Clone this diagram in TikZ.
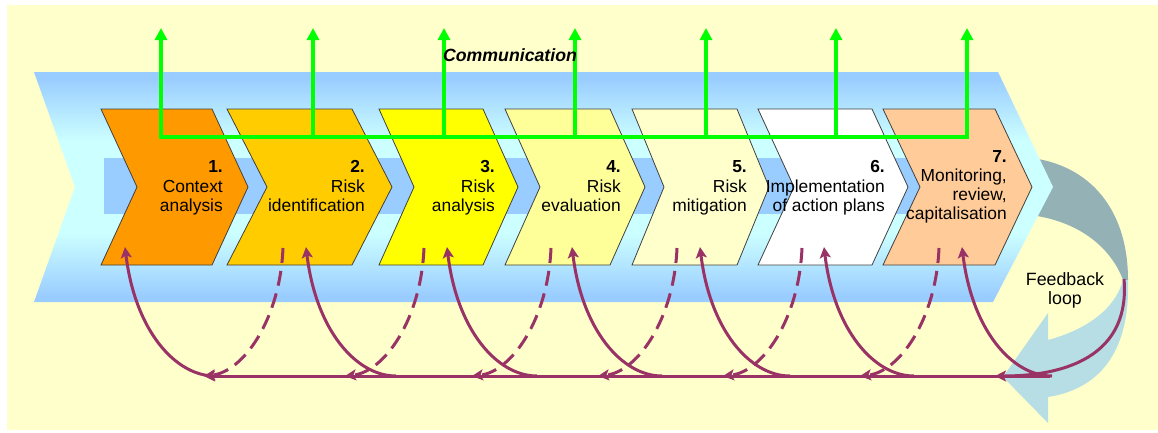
\documentclass[tikz,border=0pt]{standalone}
\usepackage{fontspec}
\setmainfont{Liberation Sans}
\usetikzlibrary{arrows.meta}
\definecolor{bgyellow}{HTML}{FFFFCC}
\definecolor{bandblue}{HTML}{99CCFF}
\definecolor{bandcyan}{HTML}{CCFFFF}
\definecolor{cgreen}{HTML}{00FF00}
\definecolor{plum}{HTML}{993366}
\definecolor{fbdark}{HTML}{94B2B5}
\definecolor{fblight}{HTML}{B6DEE4}
\definecolor{cone}{HTML}{FF9900}
\definecolor{ctwo}{HTML}{FFCC00}
\definecolor{cthree}{HTML}{FFFF00}
\definecolor{cfour}{HTML}{FFFF99}
\definecolor{cfive}{HTML}{FFFFCC}
\definecolor{csix}{HTML}{FFFFFF}
\definecolor{cseven}{HTML}{FFCC99}
\pgfdeclareverticalshading{bandshade}{100bp}{color(0bp)=(bandblue); color(26bp)=(bandblue);
  color(40bp)=(bandcyan); color(60bp)=(bandcyan); color(74bp)=(bandblue); color(100bp)=(bandblue)}
\begin{document}
\begin{tikzpicture}[x=1pt,y=-1pt,
  chevbox/.style={draw=black!75, line width=0.8pt, line join=miter},
  lbl/.style={font=\fontsize{17.4}{19.5}\selectfont, align=right, inner sep=0pt, anchor=north east},
  gline/.style={draw=cgreen, line width=4pt},
  garrow/.style={gline, -{Triangle[width=12pt,length=12pt]}},
  pline/.style={draw=plum, line width=3pt},
  parrow/.style={pline, -{Stealth[width=11pt,length=11pt,inset=2.5pt]}},
  pdash/.style={parrow, dash pattern=on 15pt off 8pt},
]
\useasboundingbox (0,0) rectangle (1158,432);
\fill[white] (0,0) rectangle (1158,432);
\fill[bgyellow] (7,5) rectangle (1158,430);

% feedback loop big arrow
\fill[fbdark] (1020,157) .. controls (1085,160) and (1128,205) .. (1128,280)
  -- (1123,280) .. controls (1112,250) and (1080,218) .. (1020,214) -- cycle;
\fill[fblight] (1123,280) -- (1128,280) .. controls (1130,345) and (1105,388) .. (1048,397)
  -- (1048,423) -- (1003,377) -- (1048,313) -- (1048,340)
  .. controls (1085,330) and (1115,310) .. (1123,280) -- cycle;

% big band
\shade[shading=bandshade]
  (34,72) -- (998,72) -- (1053,187) -- (993,302) -- (34,302) -- (75,187) -- cycle;
\fill[bandblue] (104,158) rectangle (975,214);

% chevrons
\foreach \L/\R/\d/\c in {101/212/36/cone, 227/352/40/ctwo, 379/483/35/cthree,
    505/610/35/cfour, 632/737/32/cfive, 758/872/36/csix, 883/995/37/cseven}
  \filldraw[chevbox, fill=\c] (\L,109) -- (\R,109) -- ({\R+\d},187) -- (\R,265)
    -- (\L,265) -- ({\L+\d},187) -- cycle;

\node[lbl] (t1) at (223,160.5) {\textbf{1.}\\Context\\analysis};
\node[lbl] (t2) at (365,160.5) {\textbf{2.}\\Risk\\identification};
\node[lbl] (t3) at (495,160.5) {\textbf{3.}\\Risk\\analysis};
\node[lbl] (t4) at (621,160.5) {\textbf{4.}\\Risk\\evaluation};
\node[lbl] (t5) at (747,160.5) {\textbf{5.}\\Risk\\mitigation};
\node[lbl] (t6) at (885,160.5) {\textbf{6.}\\Implementation\\of action plans};
\node[lbl, font=\fontsize{17.4}{19}\selectfont] (t7) at (1007,150.5) {\textbf{7.}\\Monitoring,\\review,\\capitalisation};

% communication
\foreach \i/\x in {1/161,2/313,3/444,4/575,5/706,6/836,7/967} {
  \coordinate (gb\i) at (\x,137);
  \coordinate (gt\i) at (\x,28);
}
\draw[gline, line join=miter, {Triangle[width=12pt,length=12pt]}-{Triangle[width=12pt,length=12pt]}]
  (gt1) -- (gb1) -- (gb7) -- (gt7);
\foreach \i in {2,...,6} \draw[garrow] (gb\i) -- (gt\i);
\node[anchor=base, inner sep=0pt, font=\fontsize{17.7}{20}\selectfont\bfseries\itshape] (comm) at (510,61) {Communication};

% feedback purple
\coordinate (lr) at (1050,376);
\coordinate (ll) at (204,376);
\draw[parrow] (lr) -- (ll);
\foreach \i/\x in {1/125,2/306,3/447,4/572,5/700,6/824,7/962} {
  \coordinate (st\i) at (\x,247);
  \coordinate (sb\i) at ({\x+90},376);
  \draw[parrow] (sb\i) .. controls ({\x+50},376) and ({\x+10},330) .. (st\i);
}
\foreach \i/\x in {2/283,3/424,4/551,5/677,6/802,7/939} {
  \coordinate (ds\i) at (\x,248);
  \coordinate (de\i) at ({\x-79},376);
  \draw[pdash] (ds\i) .. controls ({\x-3},320) and ({\x-40},372) .. (de\i);
}
\coordinate (fbs) at (1124,279);
\coordinate (fbe) at (995,376);
\draw[parrow] (fbs) .. controls (1130,350) and (1075,376) .. (fbe);

\node[anchor=north, align=center, inner sep=0pt, font=\fontsize{17.8}{19.5}\selectfont] (fbl) at (1065,272.3) {Feedback\\loop};
\end{tikzpicture}
\end{document}
